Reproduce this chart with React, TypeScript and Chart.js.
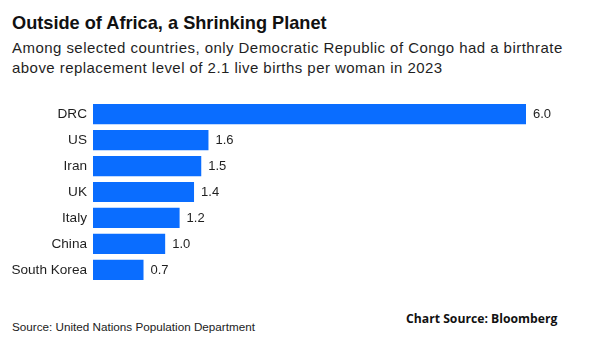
import React, { useEffect, useRef } from "react";
import { Chart, registerables } from "chart.js";

Chart.register(...registerables);

const countries = ["DRC", "US", "Iran", "UK", "Italy", "China", "South Korea"];
const birthRates = [6.0, 1.6, 1.5, 1.4, 1.2, 1.0, 0.7];

const titleText = "Outside of Africa, a Shrinking Planet";
const subtitleLines = [
  "Among selected countries, only Democratic Republic of Congo had a birthrate",
  "above replacement level of 2.1 live births per woman in 2023",
];
const sourceText = "Source: United Nations Population Department";
const creditText = "Chart Source: Bloomberg";

const BAR_COLOR = "#0a6dff";
const TEXT_COLOR = "#1f1f1f";
const FONT = "'Liberation Sans', Arial, sans-serif";

const valueLabels = {
  id: "valueLabels",
  afterDatasetsDraw(chart: any) {
    const ctx = chart.ctx;
    const meta = chart.getDatasetMeta(0);
    ctx.save();
    ctx.font = "13px " + FONT;
    ctx.fillStyle = TEXT_COLOR;
    ctx.textAlign = "left";
    ctx.textBaseline = "middle";
    meta.data.forEach((bar: any, i: number) => {
      ctx.fillText(birthRates[i].toFixed(1), bar.x + 7, bar.y + 0.5);
    });
    ctx.restore();
  },
};

export default function App() {
  const canvasRef = useRef<HTMLCanvasElement | null>(null);

  useEffect(() => {
    if (!canvasRef.current) return;
    const chart = new Chart(canvasRef.current, {
      type: "bar",
      data: {
        labels: countries,
        datasets: [
          {
            data: birthRates,
            backgroundColor: BAR_COLOR,
            borderWidth: 0,
            barPercentage: 0.78,
            categoryPercentage: 1,
          },
        ],
      },
      options: {
        indexAxis: "y",
        animation: false,
        responsive: false,
        maintainAspectRatio: false,
        layout: { padding: { left: 0, right: 81, top: 0, bottom: 0 } },
        plugins: {
          legend: { display: false },
          tooltip: { enabled: false },
          title: { display: false },
        },
        scales: {
          x: {
            display: false,
            min: 0,
            max: 6.0,
          },
          y: {
            afterFit(scale: any) {
              scale.width = 93;
            },
            grid: { display: false, drawTicks: false },
            border: { display: false },
            ticks: {
              color: TEXT_COLOR,
              padding: 6,
              font: { family: FONT, size: 13.6 },
            },
          },
        },
      },
      plugins: [valueLabels],
    });
    return () => chart.destroy();
  }, []);

  return (
    <div
      style={{
        position: "fixed",
        left: 0,
        top: 0,
        width: 607,
        height: 343,
        background: "#ffffff",
        fontFamily: FONT,
        color: TEXT_COLOR,
        overflow: "hidden",
      }}
    >
      <div
        style={{
          position: "absolute",
          left: 12,
          top: 13,
          fontSize: 18.2,
          lineHeight: "21px",
          fontWeight: 700,
          color: "#111",
          whiteSpace: "nowrap",
        }}
      >
        {titleText}
      </div>
      <div
        style={{
          position: "absolute",
          left: 12,
          top: 38,
          fontSize: 15,
          lineHeight: "20px",
          letterSpacing: 0.45,
          whiteSpace: "nowrap",
        }}
      >
        {subtitleLines.map((l, i) => (
          <div key={i}>{l}</div>
        ))}
      </div>
      <canvas
        ref={canvasRef}
        width={607}
        height={210}
        style={{ position: "absolute", left: 0, top: 87, width: 607, height: 210 }}
      />
      <div
        style={{
          position: "absolute",
          left: 12,
          top: 320,
          fontSize: 11.7,
          lineHeight: "14px",
          whiteSpace: "nowrap",
          color: "#222",
        }}
      >
        {sourceText}
      </div>
      <div
        style={{
          position: "absolute",
          left: 406,
          top: 309.5,
          fontSize: 12.2,
          lineHeight: "17px",
          fontWeight: 700,
          fontFamily: "'Open Sans', sans-serif",
          whiteSpace: "nowrap",
          color: "#111",
        }}
      >
        {creditText}
      </div>
    </div>
  );
}
